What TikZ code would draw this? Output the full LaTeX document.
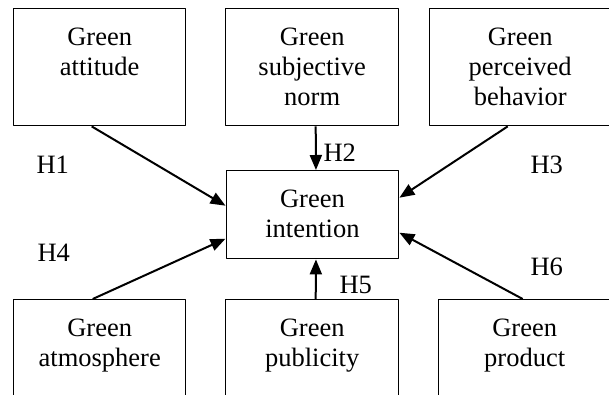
\documentclass[tikz,border=0pt]{standalone}
\usepackage{fontspec}
\setmainfont{Liberation Serif}
\usetikzlibrary{arrows.meta}
\newcommand{\boxlines}[2]{\parbox[t]{#1}{\centering #2}}
\tikzset{
  factor/.style={draw, line width=1.4pt, inner sep=0pt, anchor=north west, text height=37pt},
  hyp/.style={anchor=base west}
}
\begin{document}
\begin{tikzpicture}[x=1pt,y=-1pt, line join=round, font=\fontsize{26.5}{30}\selectfont, >={Triangle[length=15pt,width=12pt]}]
		\useasboundingbox (0,0) rectangle (609,394);
		\clip (0,0) rectangle (609,394);
		% top row
		\node[factor, text depth=80pt] (att) at (13,8) {\boxlines{172pt}{Green\\attitude}};
		\node[factor, text depth=80pt] (sub) at (225,8) {\boxlines{173pt}{Green\\subjective\\norm}};
		\node[factor, text depth=80pt] (pbc) at (429,8) {\boxlines{181pt}{Green\\perceived\\behavior}};
		% middle
		\node[factor, text depth=51pt] (int) at (225.5,170) {\boxlines{172.5pt}{Green\\intention}};
		% bottom row
		\node[factor, text depth=83pt] (atm) at (13,299) {\boxlines{172pt}{Green\\atmosphere}};
		\node[factor, text depth=83pt] (pub) at (225,299) {\boxlines{173pt}{Green\\publicity}};
		\node[factor, text depth=83pt] (prd) at (438,299) {\boxlines{172pt}{Green\\product}};
		% paths
		\draw[->, line width=2pt] ([xshift=-8pt]att.south)--([yshift=9pt]int.west);
		\draw[->, line width=2pt] ([xshift=3.5pt]sub.south)--([xshift=3.5pt]int.north);
		\draw[->, line width=2pt] ([xshift=-12.5pt]pbc.south)--([yshift=17pt]int.east);
		\draw[->, line width=2pt] ([xshift=-7pt]atm.north)--([yshift=-24pt]int.west);
		\draw[->, line width=2pt] ([xshift=3.5pt]pub.north)--([xshift=3.5pt]int.south);
		\draw[->, line width=2pt] ([xshift=-2pt]prd.north)--([yshift=-18pt]int.east);
		% hypotheses
		\node[hyp] (h1) at (33,173) {H1};
		\node[hyp] (h2) at (320,161) {H2};
		\node[hyp] (h3) at (527,173) {H3};
		\node[hyp] (h4) at (34,261) {H4};
		\node[hyp] (h5) at (336,293) {H5};
		\node[hyp] (h6) at (527,275) {H6};
		\end{tikzpicture}
\end{document}
